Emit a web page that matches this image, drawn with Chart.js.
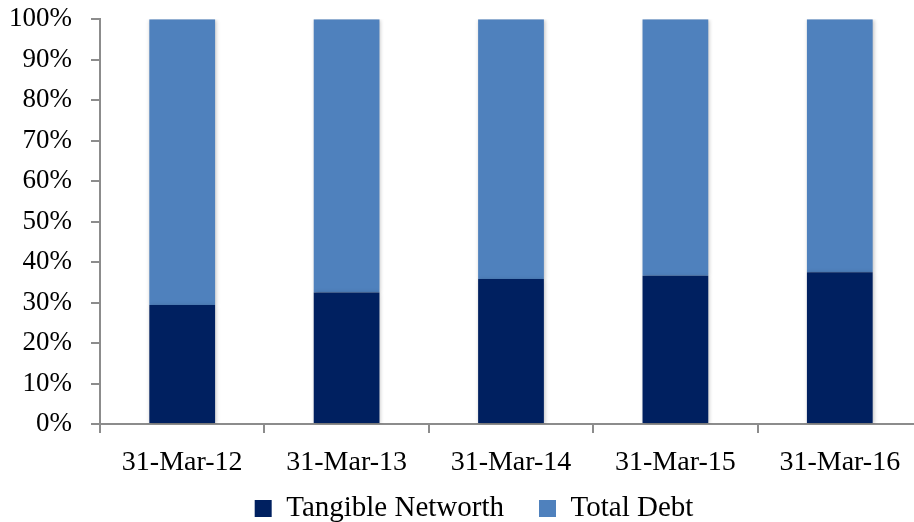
<!DOCTYPE html>
<html>
<head>
<meta charset="utf-8">
<script src="https://cdn.jsdelivr.net/npm/chart.js@4/dist/chart.umd.min.js"></script>
<style>
html,body{margin:0;padding:0;background:#fff;overflow:hidden;}
#wrap{width:914px;height:522px;position:relative;overflow:hidden;}
#c{position:absolute;left:0;top:-16px;}
</style>
</head>
<body>
<div id="wrap"><canvas id="c" width="922" height="584"></canvas></div>
<script>
const categories = ["31-Mar-12","31-Mar-13","31-Mar-14","31-Mar-15","31-Mar-16"];
const tangibleNetworth = [29.4, 32.5, 35.8, 36.6, 37.5];
const totalDebt = [70.6, 67.5, 64.2, 63.4, 62.5];
const seriesNames = ["Tangible Networth","Total Debt"];

const FONT = "'Liberation Serif', 'DejaVu Serif', serif";
const axisColor = '#8c8c8c';
Chart.defaults.font.family = FONT;
Chart.defaults.font.size = 27;
Chart.defaults.color = '#000';

const shadowPlugin = {
  id: 'barShadow',
  beforeDatasetsDraw(chart) {
    const ctx = chart.ctx;
    ctx.save();
    ctx.shadowColor = 'rgba(0,0,0,0.25)';
    ctx.shadowBlur = 4;
    ctx.shadowOffsetX = 1;
    ctx.shadowOffsetY = 1;
  },
  afterDatasetsDraw(chart) {
    chart.ctx.restore();
  }
};

// move the legend box closer to the axis labels / centre it like the reference
const legendShift = {
  id: 'legendShift',
  afterLayout(chart) {
    const lg = chart.legend;
    if (!lg) return;
    const dy = -35, dx = 13;
    lg.top += dy; lg.bottom += dy;
    lg.left += dx; lg.right += dx;
  }
};

new Chart(document.getElementById('c'), {
  type: 'bar',
  data: {
    labels: categories,
    datasets: [
      {label: seriesNames[0], data: tangibleNetworth, backgroundColor: '#002060', borderWidth: 0, barPercentage: 0.4, categoryPercentage: 1.0},
      {label: seriesNames[1], data: totalDebt, backgroundColor: '#4f81bd', borderWidth: 0, barPercentage: 0.4, categoryPercentage: 1.0}
    ]
  },
  plugins: [shadowPlugin, legendShift],
  options: {
    responsive: false,
    animation: false,
    devicePixelRatio: 1,
    layout: {padding: {top: 0, right: 0, left: 0, bottom: 0}},
    plugins: {
      legend: {
        position: 'bottom',
        labels: {font: {family: FONT, size: 29}, color: '#000', boxWidth: 17, boxHeight: 17, padding: 35}
      },
      tooltip: {enabled: false}
    },
    scales: {
      x: {
        stacked: true,
        border: {color: axisColor, width: 2},
        grid: {display: true, drawOnChartArea: false, drawTicks: true, tickLength: 9, color: axisColor, lineWidth: 2, offset: true},
        ticks: {font: {family: FONT, size: 28}, color: '#000', padding: 13},
        afterFit(scale) { scale.height = 70; }
      },
      y: {
        stacked: true,
        min: 0, max: 100,
        border: {color: axisColor, width: 2},
        grid: {display: true, drawOnChartArea: false, drawTicks: true, tickLength: 9, color: axisColor, lineWidth: 2},
        ticks: {stepSize: 10, font: {family: FONT, size: 27}, color: '#000', padding: 19, callback: v => v + '%'},
        afterFit(scale) { scale.width = 100; }
      }
    }
  }
});
</script>
</body>
</html>
